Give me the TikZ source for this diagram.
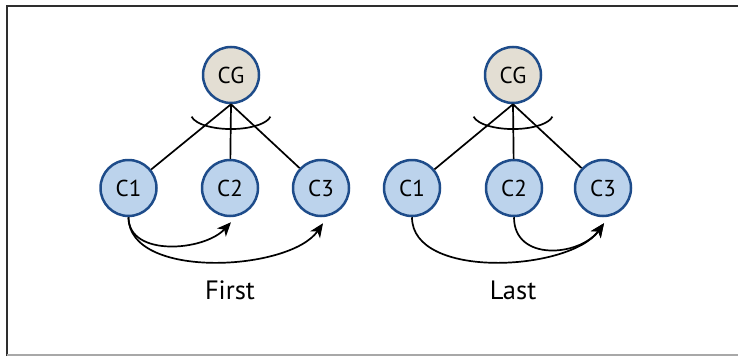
\documentclass[tikz,border=0pt]{standalone}
\usepackage{fontspec}
\setmainfont{PT Sans}
\usetikzlibrary{arrows.meta,calc}

\definecolor{nodeblue}{HTML}{BCD3EC}
\definecolor{edgeblue}{HTML}{1E4C8A}
\definecolor{cgfill}{HTML}{E3DED3}
\definecolor{framedark}{HTML}{2E2E2E}
\definecolor{framegray}{HTML}{A8A8A8}

\tikzset{
  member/.style={circle, draw=edgeblue, line width=2.5pt, fill=nodeblue,
    minimum size=56pt, inner sep=0pt, font=\fontsize{23}{23}\selectfont},
  coord/.style={member, fill=cgfill},
  link/.style={line width=1.7pt, black},
  order/.style={line width=1.7pt, black, -{Stealth[length=14pt,width=12pt,inset=4pt]}},
  caption/.style={font=\fontsize{26.5}{26.5}\selectfont, inner sep=0pt}
}

\begin{document}
\begin{tikzpicture}[x=1pt,y=1pt]
  \useasboundingbox (0,0) rectangle (738,-356);

  % outer frame
  \draw[framedark, line width=2pt] (6.5,-356) -- (6.5,-5.5) -- (738,-5.5);
  \draw[framegray, line width=1.5pt] (6.5,-355.2) -- (738,-355.2);

  % ---- left group: first member ----
  \node[coord]  (cgA) at (231,-75)  {CG};
  \node[member] (a1)  at (128.5,-188) {C1};
  \node[member] (a2)  at (230,-188) {C2};
  \node[member] (a3)  at (321,-188) {C3};

  \draw[link] (cgA.south) -- (a1);
  \draw[link] (cgA.south) -- (a2);
  \draw[link] (cgA.south) -- (a3);
  \draw[link] ($(cgA.south)+(-39.4,-12.4)$)
    arc[start angle=190, end angle=350, x radius=40, y radius=15];

  \coordinate (a2t) at ($(a2.south)+(1,-5)$);
  \coordinate (a3t) at ($(a3.south)+(2,-6)$);
  \draw[order] (a1.south) .. controls +(0,-40) and +(-27,-29) .. (a2t);
  \draw[order] (a1.south) .. controls +(0,-63) and +(-33,-48) .. (a3t);

  \node[caption] (first) at (230,-290) {First};

  % ---- right group: last member ----
  \node[coord]  (cgB) at (513,-75)  {CG};
  \node[member] (b1)  at (412,-188) {C1};
  \node[member] (b2)  at (514,-188) {C2};
  \node[member] (b3)  at (603,-188) {C3};

  \draw[link] (cgB.south) -- (b1);
  \draw[link] (cgB.south) -- (b2);
  \draw[link] (cgB.south) -- (b3);
  \draw[link] ($(cgB.south)+(-39.4,-12.4)$)
    arc[start angle=190, end angle=350, x radius=40, y radius=15];

  \coordinate (b3t) at ($(b3.south)+(1,-6)$);
  \draw[order] (b1.south) .. controls +(0,-63) and +(-34,-48) .. (b3t);
  \draw[order] (b2.south) .. controls +(0,-45) and +(-24,-33) .. (b3t);

  \node[caption] (last) at (513,-290) {Last};
\end{tikzpicture}
\end{document}
